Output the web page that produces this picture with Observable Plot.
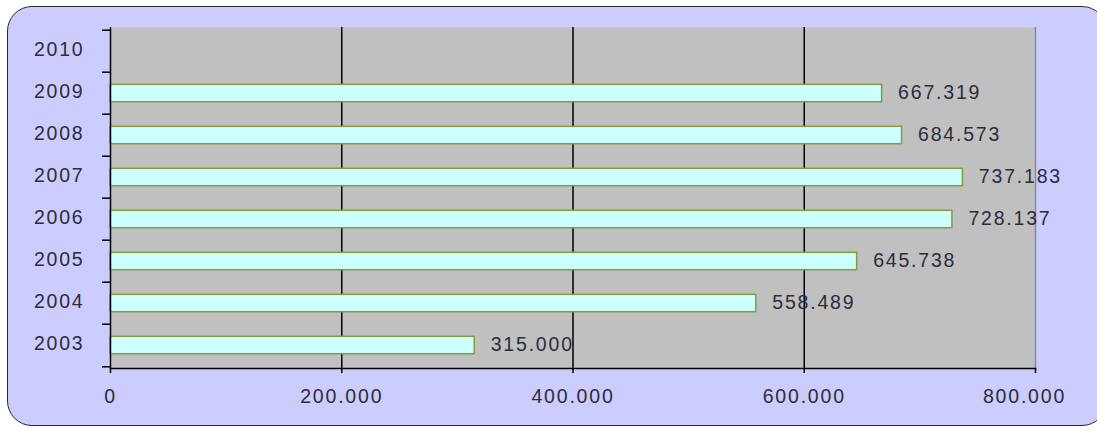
<!DOCTYPE html>
<html>
<head>
<meta charset="utf-8">
<script src="https://cdn.jsdelivr.net/npm/d3@7"></script>
<script src="https://cdn.jsdelivr.net/npm/@observablehq/plot@0.6"></script>
<style>
  html, body { margin: 0; padding: 0; background: #ffffff; overflow: hidden; }
  #wrap { position: relative; width: 1097px; height: 431px; }
  #bg { position: absolute; left: 7px; top: 6px; width: 1100px; height: 420px;
        background: #CCCCFF; border: 1.5px solid #2b2b2b; border-radius: 25px; box-sizing: border-box; }
  #chart { position: absolute; left: 0; top: 0; }
</style>
</head>
<body>
<div id="wrap"><div id="bg"></div><div id="chart"></div></div>
<script>
const years = ["2003", "2004", "2005", "2006", "2007", "2008", "2009", "2010"];
const values = [315000, 558489, 645738, 728137, 737183, 684573, 667319, null];
const xTicks = [0, 200000, 400000, 600000, 800000];
const gridValues = [200000, 400000, 600000];

const data = years.map((y, i) => ({year: y, value: values[i]})).filter(d => d.value != null);

const loc = d3.formatLocale({decimal: ",", thousands: ".", grouping: [3], currency: ["", "€"]});
const fmt = loc.format(",");

const W = 1097, H = 431;
const mT = 27, mB = 63, mL = 110, mR = 62;
const step = (H - mT - mB) / years.length;
const yDomain = years.slice().reverse();

const plot = Plot.plot({
  width: W, height: H,
  marginTop: mT, marginBottom: mB, marginLeft: mL, marginRight: mR,
  style: {background: "transparent", fontFamily: "'Liberation Sans', Arial, sans-serif", fontSize: "19.5px", letterSpacing: "1.8px", color: "#2d2d3a", overflow: "visible"},
  x: {domain: [0, 800000]},
  y: {domain: yDomain, padding: 0},
  marks: [
    Plot.frame({fill: "#C0C0C0", stroke: null}),
    Plot.ruleX(gridValues, {stroke: "#000", strokeWidth: 1.5}),
    Plot.ruleX([800000], {stroke: "#8a8a9a", strokeWidth: 1.5}),
    Plot.barX(data, {x: "value", y: "year", fill: "#CCFFFF", stroke: "#8a9a3a", strokeWidth: 1.5, insetTop: 12.3, insetBottom: 12.3}),
    Plot.text(data, {x: "value", y: "year", text: d => fmt(d.value), textAnchor: "start", dx: 16, dy: -1, fill: "#2d2d3a"}),
    Plot.axisY({ticks: years, tickSize: 8, tickFormat: () => "", label: null, dy: -step / 2, stroke: "#000", strokeWidth: 1.5}),
    Plot.axisY({ticks: ["2003"], tickSize: 8, tickFormat: () => "", label: null, dy: step / 2, stroke: "#000", strokeWidth: 1.5}),
    Plot.axisY({ticks: years, tickSize: 0, tickPadding: 26, label: null, dy: -2, fill: "#2d2d3a"}),
    Plot.axisX({ticks: xTicks.slice(0, 4), tickSize: 5, tickPadding: 16, tickFormat: fmt, label: null, stroke: "#000", strokeWidth: 1.5, fill: "#2d2d3a"}),
    Plot.axisX({ticks: [800000], tickSize: 5, tickPadding: 16, tickFormat: () => "", label: null, stroke: "#000", strokeWidth: 1.5}),
    Plot.axisX({ticks: [800000], tickSize: 5, tickPadding: 16, tickFormat: fmt, label: null, dx: -11, stroke: null, fill: "#2d2d3a"}),
    Plot.ruleX([0], {stroke: "#000", strokeWidth: 1.5}),
    Plot.frame({anchor: "bottom", stroke: "#000", strokeWidth: 1.5})
  ]
});
document.getElementById("chart").appendChild(plot);
</script>
</body>
</html>
